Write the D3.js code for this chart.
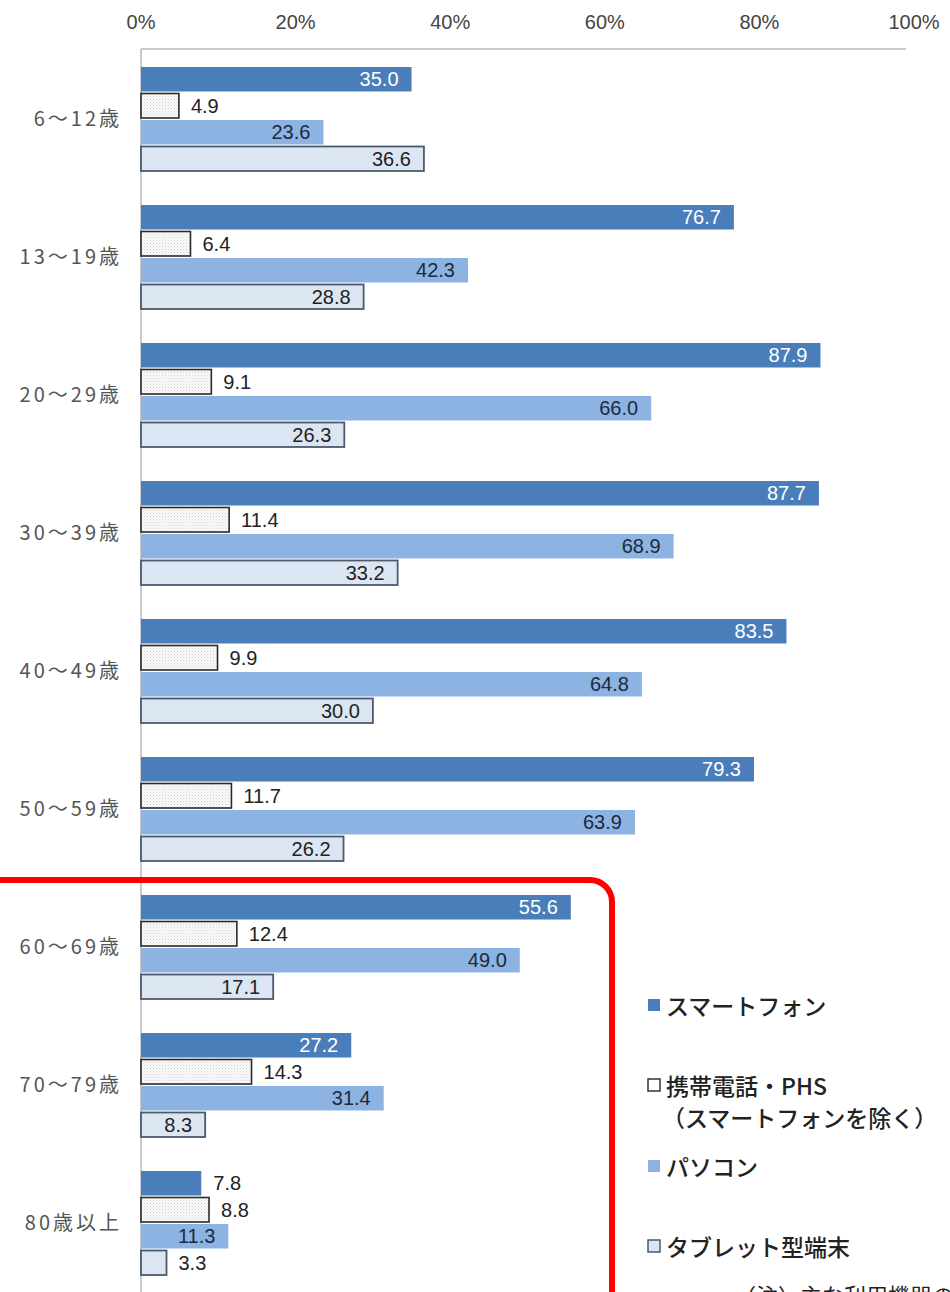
<!DOCTYPE html>
<html>
<head>
<meta charset="utf-8">
<script src="https://cdn.jsdelivr.net/npm/d3@7"></script>
<style>
  html, body { margin: 0; padding: 0; background: #fff; }
  svg { display: block; }
</style>
</head>
<body>
<div id="chart"></div>
<script>
const ageGroups = ['6～12歳', '13～19歳', '20～29歳', '30～39歳', '40～49歳', '50～59歳', '60～69歳', '70～79歳', '80歳以上'];
const seriesNames = ['スマートフォン', '携帯電話・PHS', 'パソコン', 'タブレット型端末'];
const smartphone = [35.0, 76.7, 87.9, 87.7, 83.5, 79.3, 55.6, 27.2, 7.8];
const mobilePhs = [4.9, 6.4, 9.1, 11.4, 9.9, 11.7, 12.4, 14.3, 8.8];
const pc = [23.6, 42.3, 66.0, 68.9, 64.8, 63.9, 49.0, 31.4, 11.3];
const tablet = [36.6, 28.8, 26.3, 33.2, 30.0, 26.2, 17.1, 8.3, 3.3];
const xTicks = [0, 20, 40, 60, 80, 100];

const width = 950, height = 1292;
const font = '"Liberation Sans", Arial, "Noto Sans CJK JP", sans-serif';
const jpFont = '"Noto Sans CJK JP", sans-serif';

const svg = d3.select('#chart').append('svg')
  .attr('width', width)
  .attr('height', height);

const defs = svg.append('defs');
const pat = defs.append('pattern')
  .attr('id', 'dots')
  .attr('width', 3).attr('height', 3)
  .attr('patternUnits', 'userSpaceOnUse');
pat.append('rect').attr('width', 3).attr('height', 3).attr('fill', '#fbfbfb');
pat.append('rect').attr('width', 1).attr('height', 1).attr('fill', '#cfcfcf');
pat.append('rect').attr('x', 1.5).attr('y', 1.5).attr('width', 1).attr('height', 1).attr('fill', '#dddddd');

const x = d3.scaleLinear().domain([0, 100]).range([141, 914]);

const y0 = d3.scaleBand()
  .domain(ageGroups)
  .range([66, 1276])
  .paddingInner(0.232)
  .paddingOuter(0);

const y1 = d3.scaleBand()
  .domain(seriesNames)
  .range([0, y0.bandwidth()])
  .padding(0);

const styles = [
  { fill: '#4a7ebb', stroke: 'none', sw: 0, label: '#ffffff', inside: true },
  { fill: 'url(#dots)', stroke: '#2a2a2a', sw: 1.6, label: '#222', inside: false },
  { fill: '#8db3e2', stroke: 'none', sw: 0, label: '#1c2a3d', inside: true },
  { fill: '#dce6f2', stroke: '#4a5a6c', sw: 1.8, label: '#222', inside: true }
];

const rows = [];
ageGroups.forEach((g, i) => {
  [smartphone, mobilePhs, pc, tablet].forEach((arr, s) => {
    rows.push({ group: g, series: seriesNames[s], s: s, value: arr[i] });
  });
});

function isInside(d) {
  return styles[d.s].inside && d.value >= 8;
}

// top axis
const axis = svg.append('g').attr('class', 'axis');
axis.selectAll('text')
  .data(xTicks)
  .enter()
  .append('text')
  .attr('x', d => x(d))
  .attr('y', 29)
  .attr('text-anchor', 'middle')
  .style('font-family', font)
  .style('font-size', '20px')
  .style('fill', '#444')
  .text(d => d + '%');

axis.append('line')
  .attr('x1', x(0)).attr('x2', x(100) - 8)
  .attr('y1', 49).attr('y2', 49)
  .style('stroke', '#b8b8b8').style('stroke-width', 1.5);

axis.append('line')
  .attr('x1', x(0)).attr('x2', x(0))
  .attr('y1', 49).attr('y2', height)
  .style('stroke', '#b8b8b8').style('stroke-width', 1.5);

// group labels
svg.append('g').classed('groups', true)
  .selectAll('text')
  .data(ageGroups)
  .enter()
  .append('text')
  .attr('x', 122)
  .attr('y', d => y0(d) + y0.bandwidth() / 2 + 7)
  .attr('text-anchor', 'end')
  .style('font-family', jpFont)
  .style('font-size', '20px')
  .style('letter-spacing', '3px')
  .style('fill', '#555')
  .text(d => d);

// bars
const bars = svg.append('g').classed('bars', true);
bars.selectAll('rect')
  .data(rows)
  .enter()
  .append('rect')
  .attr('x', x(0))
  .attr('y', d => y0(d.group) + y1(d.series) + 1)
  .attr('width', d => x(d.value) - x(0))
  .attr('height', y1.bandwidth() - 2)
  .style('fill', d => styles[d.s].fill)
  .style('stroke', d => styles[d.s].stroke)
  .style('stroke-width', d => styles[d.s].sw);

// value labels
bars.selectAll('text')
  .data(rows)
  .enter()
  .append('text')
  .attr('x', d => isInside(d) ? x(d.value) - 13 : x(d.value) + 12)
  .attr('y', d => y0(d.group) + y1(d.series) + y1.bandwidth() / 2 + 7)
  .attr('text-anchor', d => isInside(d) ? 'end' : 'start')
  .style('font-family', font)
  .style('font-size', '20px')
  .style('fill', d => isInside(d) ? styles[d.s].label : '#222')
  .text(d => d.value.toFixed(1));

// legend
const legendItems = [
  { s: 0, lines: ['スマートフォン'], y: 1006 },
  { s: 1, lines: ['携帯電話・PHS', '（スマートフォンを除く）'], y: 1086 },
  { s: 2, lines: ['パソコン'], y: 1167 },
  { s: 3, lines: ['タブレット型端末'], y: 1247 }
];
const legendFill = ['#4a7ebb', '#ffffff', '#8db3e2', '#dce6f2'];
const legendStroke = ['none', '#333', 'none', '#4a5a6c'];
const legend = svg.append('g').classed('legend', true);
legendItems.forEach(item => {
  legend.append('rect')
    .attr('x', 648).attr('y', item.y - 7)
    .attr('width', 12).attr('height', 12)
    .style('fill', legendFill[item.s])
    .style('stroke', legendStroke[item.s])
    .style('stroke-width', 1.5);
  item.lines.forEach((t, k) => {
    legend.append('text')
      .attr('x', k === 0 ? 666 : 662)
      .attr('y', item.y + 9 + k * 32)
      .style('font-family', jpFont)
      .style('font-size', '23px')
      .style('font-weight', 500)
      .style('fill', '#222')
      .text(t);
  });
});

legend.append('text')
  .attr('x', 734)
  .attr('y', 1304)
  .style('font-family', jpFont)
  .style('font-size', '22px')
  .style('fill', '#222')
  .text('（注）主な利用機器の');

// red highlight frame
svg.append('rect')
  .attr('x', -20).attr('y', 880)
  .attr('width', 632).attr('height', 440)
  .attr('rx', 22).attr('ry', 22)
  .style('fill', 'none')
  .style('stroke', '#ff0000')
  .style('stroke-width', 6);
</script>
</body>
</html>
